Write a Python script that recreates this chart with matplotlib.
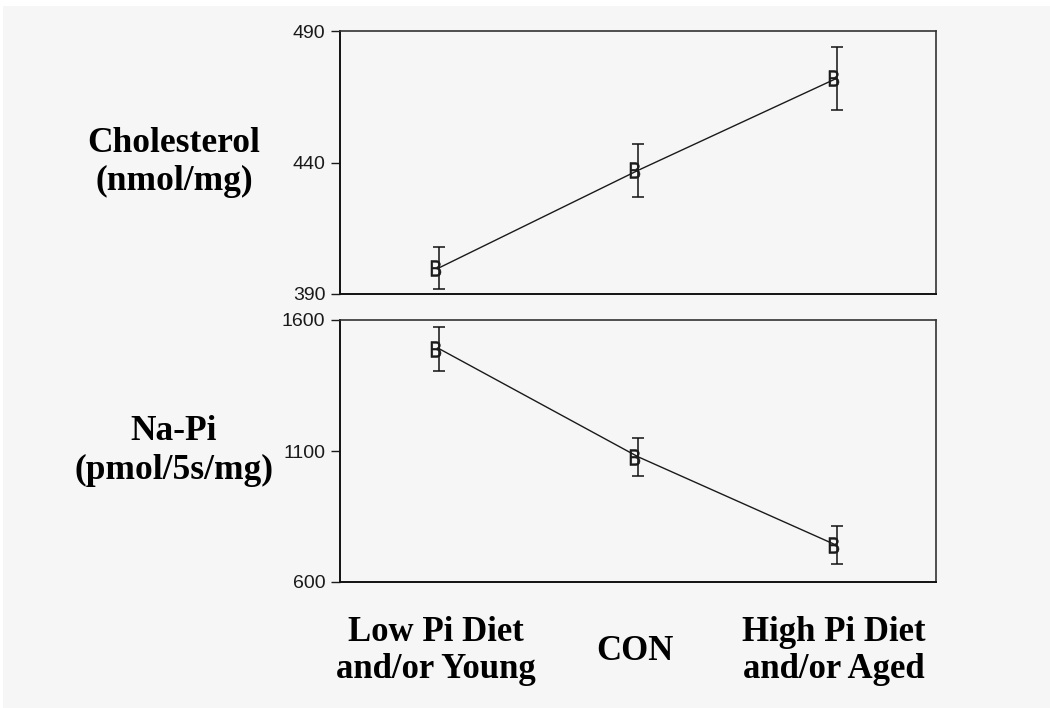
import numpy as np
import matplotlib
matplotlib.use("Agg")
import matplotlib.pyplot as plt
from matplotlib.textpath import TextPath
from matplotlib.path import Path
from matplotlib.font_manager import FontProperties
from matplotlib.patches import Rectangle

# Group labels along the bottom
groups = ["Low Pi Diet\nand/or Young", "CON", "High Pi Diet\nand/or Aged"]

# Cholesterol content (nmol/mg): mean and standard error
chol_mean = [400, 437, 472]
chol_err = [8, 10, 12]

# Na-Pi cotransport (pmol/5s/mg): mean and standard error
napi_mean = [1490, 1078, 740]
napi_err = [84, 73, 72]

chol_ticks = [390, 440, 490]
napi_ticks = [600, 1100, 1600]

W, H = 1050, 708
BG = "#f6f6f6"
fig = plt.figure(figsize=(W / 100, H / 100), dpi=100, facecolor="white")
fig.patches.append(Rectangle((3 / W, 0), 1 - 3 / W, 1 - 6 / H,
                             transform=fig.transFigure, facecolor=BG,
                             edgecolor="none", zorder=-10))


def px_axes(left, top, right, bottom):
    return fig.add_axes([left / W, 1 - bottom / H, (right - left) / W, (bottom - top) / H])


# Narrow letter "B" used as the plotting symbol, sitting a little left of the point
tp = TextPath((0, 0), "B", size=1, prop=FontProperties(family="Liberation Sans"))
codes = tp.codes
v = tp.vertices.copy()
real = codes != Path.CLOSEPOLY
xmin, ymin = v[real].min(axis=0)
xmax, ymax = v[real].max(axis=0)
B_W, B_H, B_DX = 10.0, 16.0, -3.5  # pixels
v[:, 0] = (v[:, 0] - (xmin + xmax) / 2) / (xmax - xmin) * B_W + B_DX
v[:, 1] = (v[:, 1] - (ymin + ymax) / 2) / (ymax - ymin) * B_H
v[~real] = 0.0
half = np.abs(v[real]).max()
b_marker = Path(v, codes)
b_size = 2 * half * 72 / 100  # points

sans = "Liberation Sans"
serif = "Liberation Serif"


def panel(ax, mean, err, ticks, label):
    x = np.arange(len(mean))
    ax.set_facecolor(BG)
    ax.plot(x, mean, color="#1a1a1a", lw=1.0, zorder=2)
    ax.errorbar(x, mean, yerr=err, fmt="none", ecolor="#111111",
                elinewidth=1.1, capsize=4.2, capthick=1.1, zorder=3)
    ax.plot(x, mean, linestyle="none", marker=b_marker, markersize=b_size,
            markerfacecolor="#1a1a1a", markeredgecolor="#1a1a1a",
            markeredgewidth=0.4, zorder=4)
    ax.set_xlim(-0.5, 2.5)
    ax.set_ylim(ticks[0], ticks[-1])
    ax.set_yticks(ticks)
    ax.set_yticklabels([str(t) for t in ticks], fontsize=14, family=sans, color="#1a1a1a")
    ax.set_xticks([])
    ax.tick_params(axis="y", length=6.5, width=1.0, pad=4, color="#1a1a1a")
    for s in ("left", "bottom"):
        ax.spines[s].set_linewidth(1.4)
        ax.spines[s].set_color("#111111")
    for s in ("top", "right"):
        ax.spines[s].set_linewidth(1.2)
        ax.spines[s].set_color("#333333")
    bb = ax.get_position()
    fig.text(174 / W, bb.y0 + bb.height / 2, label, ha="center", va="center",
             fontsize=25.5, fontweight="bold", family=serif, linespacing=1.2)


ax1 = px_axes(340, 31, 936, 294)
panel(ax1, chol_mean, chol_err, chol_ticks, "Cholesterol\n(nmol/mg)")

ax2 = px_axes(340, 320, 936, 582)
panel(ax2, napi_mean, napi_err, napi_ticks, "Na-Pi\n(pmol/5s/mg)")

# Group names under the lower panel, aligned with the data positions
for i, g in enumerate(groups):
    xf = ax2.transData.transform((i, 0))[0] / W - 3 / W
    fig.text(xf, 1 - 651 / H, g, ha="center", va="center", fontsize=25,
             fontweight="bold", family=serif, linespacing=1.15)

fig.savefig("out.png", dpi=100, facecolor=fig.get_facecolor())
